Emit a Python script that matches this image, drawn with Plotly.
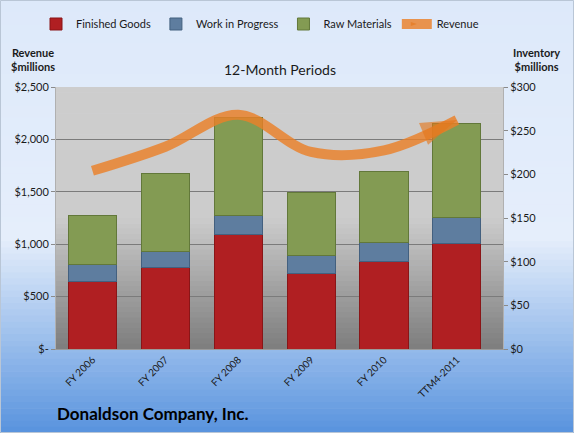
"""Donaldson Company inventory vs revenue chart."""

import plotly.graph_objects as go

# data
periods = ["FY 2006", "FY 2007", "FY 2008", "FY 2009", "FY 2010", "TTM4-2011"]
finished_goods = [77, 93, 131, 87, 100, 121]
work_in_progress = [20, 19, 22, 20, 22, 30]
raw_materials = [56, 89, 112, 72, 81, 107]
revenue = [1700, 1930, 2235, 1880, 1895, 2185]

rev_ticks = [0, 500, 1000, 1500, 2000, 2500]
rev_tick_text = ["$-", "$500", "$1,000", "$1,500", "$2,000", "$2,500"]
inv_ticks = [0, 50, 100, 150, 200, 250, 300]
inv_tick_text = ["$0", "$50", "$100", "$150", "$200", "$250", "$300"]

W, H = 574, 433
M_L, M_R, M_T, M_B = 56, 71, 87, 84
PW, PH = W - M_L - M_R, H - M_T - M_B

FONT = "Lato, 'Open Sans', sans-serif"
ORANGE = "rgba(234,128,40,0.82)"


def px_x(px):
    return (px - M_L) / PW


def px_y(py):
    return (H - M_B - py) / PH


def mix(c1, c2, t):
    return "rgb({},{},{})".format(*[round(a + (b - a) * t) for a, b in zip(c1, c2)])


def bands(x0, x1, y0, y1, stops, n):
    """Stack thin rectangles to fake a vertical gradient (pixel coords)."""
    out = []
    step = (y1 - y0) / n
    for i in range(n):
        yy = y0 + i * step
        t = (i + 0.5) / n
        for (p0, c0), (p1, c1) in zip(stops, stops[1:]):
            if p0 <= t <= p1:
                col = mix(c0, c1, (t - p0) / (p1 - p0) if p1 > p0 else 0)
                break
        out.append(
            dict(
                type="rect", xref="paper", yref="paper", layer="below",
                x0=px_x(x0), x1=px_x(x1), y0=px_y(min(yy + step + 0.6, y1)), y1=px_y(yy),
                fillcolor=col, line_width=0,
            )
        )
    return out


def label(text, px, py, size, **kw):
    return dict(text=text, xref="paper", yref="paper", x=px_x(px), y=px_y(py),
                xanchor=kw.pop("xanchor", "center"), yanchor="middle",
                showarrow=False, font={"size": size, **kw})


shapes = []
# chart background: light blue to deeper blue at the bottom
shapes += bands(0, W, 0, H, [(0, (221, 233, 250)), (0.55, (229, 238, 251)), (1, (88, 147, 222))], 70)
# plot area: light grey fading to dark grey
shapes += bands(M_L, W - M_R, M_T, H - M_B, [(0, (205, 205, 205)), (0.5, (204, 204, 204)), (1, (125, 125, 125))], 50)
# outer border
shapes.append(
    dict(type="rect", xref="paper", yref="paper", x0=px_x(0.5), x1=px_x(W - 0.5),
         y0=px_y(H - 0.5), y1=px_y(0.5), line={"color": "#b9c6d6", "width": 1})
)

fig = go.Figure()

bar_styles = [
    ("Finished Goods", finished_goods, "#b01f22", "#8a1517"),
    ("Work in Progress", work_in_progress, "#5e7d9f", "#43607f"),
    ("Raw Materials", raw_materials, "#839b53", "#62783a"),
]
for name, vals, color, edge in bar_styles:
    fig.add_trace(
        go.Bar(
            x=periods,
            y=vals,
            name=name,
            yaxis="y",
            marker={"color": color, "line": {"color": edge, "width": 1}},
        )
    )

fig.add_trace(
    go.Scatter(
        x=periods,
        y=revenue,
        name="Revenue",
        yaxis="y2",
        mode="lines+markers",
        line={"color": ORANGE, "width": 10, "shape": "spline", "smoothing": 1},
        marker={
            "symbol": "arrow",
            "angleref": "previous",
            "size": [0, 0, 0, 0, 0, 38],
            "color": "rgba(228,118,28,0.9)",
            "line": {"width": 0},
        },
    )
)

fig.update_layout(
    width=W,
    height=H,
    margin={"l": M_L, "r": M_R, "t": M_T, "b": M_B, "autoexpand": False},
    paper_bgcolor="#dde9fa",
    plot_bgcolor="rgba(0,0,0,0)",
    font={"family": FONT, "size": 11, "color": "#1a1a1a"},
    barmode="stack",
    bargap=0.34,
    shapes=shapes,
    showlegend=True,
    legend={
        "orientation": "h",
        "x": px_x(36),
        "xanchor": "left",
        "y": px_y(24),
        "yanchor": "middle",
        "bgcolor": "rgba(0,0,0,0)",
        "font": {"size": 11},
        "traceorder": "normal",
        "itemwidth": 30,
    },
    xaxis={
        "tickangle": -45,
        "tickfont": {"size": 10},
        "showgrid": False,
        "showline": True,
        "linecolor": "#9a9a9a",
        "ticks": "",
        "automargin": False,
    },
    yaxis={
        "side": "right",
        "range": [0, 300],
        "tickvals": inv_ticks,
        "ticktext": inv_tick_text,
        "showgrid": False,
        "zeroline": False,
        "showline": True,
        "linecolor": "#b0b0b0",
        "ticks": "outside",
        "ticklen": 4,
        "tickcolor": "#8a8a8a",
        "tickfont": {"size": 11},
        "automargin": False,
    },
    yaxis2={
        "overlaying": "y",
        "side": "left",
        "range": [0, 2500],
        "tickvals": rev_ticks,
        "ticktext": rev_tick_text,
        "showgrid": True,
        "gridcolor": "#7b7b7b",
        "gridwidth": 1,
        "zeroline": False,
        "showline": True,
        "linecolor": "#b0b0b0",
        "ticks": "outside",
        "ticklen": 4,
        "tickcolor": "#8a8a8a",
        "tickfont": {"size": 11},
        "automargin": False,
    },
    annotations=[
        label("12-Month Periods", 280, 70, 14),
        label("<b>Revenue</b><br><b>$millions</b>", 33, 59, 11),
        label("<b>Inventory</b><br><b>$millions</b>", 536, 59, 11),
        label("<b>Donaldson Company, Inc.</b>", 55, 413, 17, xanchor="left", color="#000000"),
    ],
)

# drop the browser's default body margin so the chart sits at the page corner
fig.write_html(
    "out.html",
    config={"displayModeBar": False},
    post_script="document.body.style.margin = '0';",
)
